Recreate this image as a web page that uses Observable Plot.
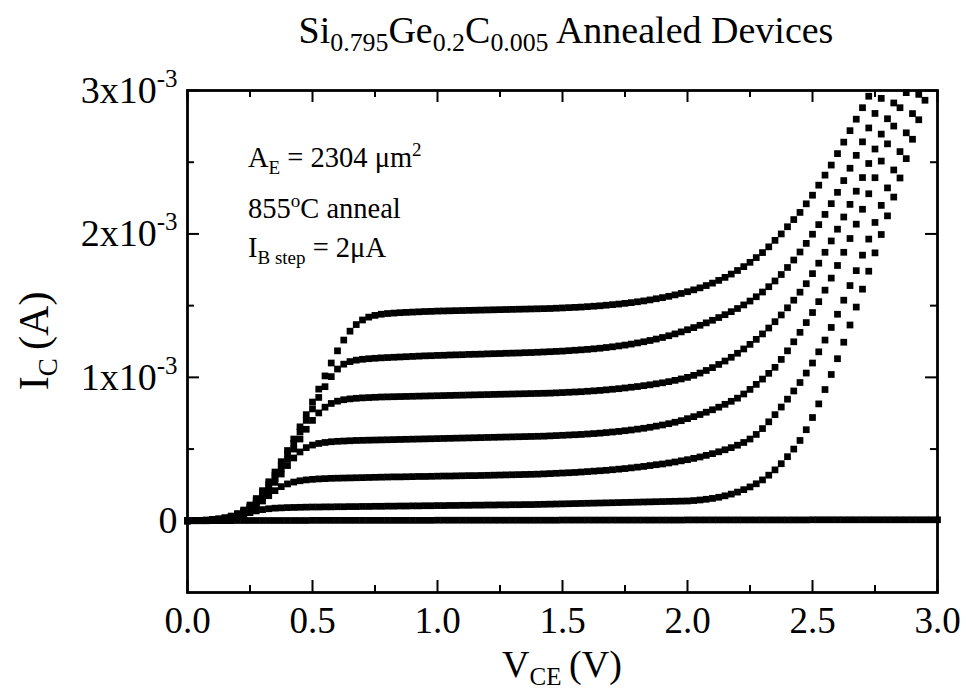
<!DOCTYPE html>
<html>
<head>
<meta charset="utf-8">
<script src="https://cdn.jsdelivr.net/npm/d3@7"></script>
<script src="https://cdn.jsdelivr.net/npm/@observablehq/plot@0.6"></script>
<style>
  html, body { margin: 0; padding: 0; background: #fff; }
  body { width: 966px; height: 695px; overflow: hidden; font-family: "Liberation Serif", "Times New Roman", serif; color: #000; }
  #title { position: relative; height: 62px; }
  #title .t { position: absolute; left: 191px; width: 750px; top: 11px; text-align: center; font-size: 38px; line-height: 38px; white-space: nowrap; }
  #title sub { font-size: 0.68em; vertical-align: -0.32em; line-height: 0; }
  #chart svg { display: block; }
</style>
</head>
<body>
<div id="title"><div class="t">Si<sub>0.795</sub>Ge<sub>0.2</sub>C<sub>0.005</sub> Annealed Devices</div></div>
<div id="chart"></div>
<script>
// V_CE sweep (V), step
const vce = [0,0.025,0.05,0.075,0.1,0.125,0.15,0.175,0.2,0.225,
0.25,0.275,0.3,0.325,0.35,0.375,0.4,0.425,0.45,0.475,
0.5,0.525,0.55,0.575,0.6,0.625,0.65,0.675,0.7,0.725,
0.75,0.775,0.8,0.825,0.85,0.875,0.9,0.925,0.95,0.975,
1,1.025,1.05,1.075,1.1,1.125,1.15,1.175,1.2,1.225,
1.25,1.275,1.3,1.325,1.35,1.375,1.4,1.425,1.45,1.475,
1.5,1.525,1.55,1.575,1.6,1.625,1.65,1.675,1.7,1.725,
1.75,1.775,1.8,1.825,1.85,1.875,1.9,1.925,1.95,1.975,
2,2.025,2.05,2.075,2.1,2.125,2.15,2.175,2.2,2.225,
2.25,2.275,2.3,2.325,2.35,2.375,2.4,2.425,2.45,2.475,
2.5,2.525,2.55,2.575,2.6,2.625,2.65,2.675,2.7,2.725,
2.75,2.775,2.8,2.825,2.85,2.875,2.9,2.925,2.95,2.975,3];

// I_C (mA) for each base-current step
const ic0 = [0,0,0,0,0.001,0.001,0.001,0.001,0.002,0.002,
0.002,0.002,0.002,0.002,0.002,0.002,0.002,0.002,0.002,0.002,
0.003,0.003,0.003,0.003,0.003,0.003,0.003,0.003,0.003,0.003,
0.003,0.003,0.003,0.003,0.003,0.003,0.003,0.003,0.003,0.003,
0.004,0.004,0.004,0.004,0.004,0.004,0.004,0.004,0.004,0.004,
0.004,0.004,0.004,0.004,0.004,0.004,0.004,0.004,0.004,0.004,
0.005,0.005,0.005,0.005,0.005,0.005,0.005,0.005,0.005,0.005,
0.005,0.005,0.005,0.005,0.005,0.005,0.005,0.005,0.005,0.005,
0.006,0.006,0.006,0.006,0.006,0.006,0.006,0.006,0.006,0.006,
0.006,0.006,0.006,0.006,0.006,0.006,0.006,0.006,0.006,0.006,
0.007,0.007,0.007,0.007,0.007,0.007,0.007,0.007,0.007,0.007,
0.007,0.007,0.007,0.007,0.007,0.007,0.007,0.007,0.007,0.007,0.007];

const ic2 = [0,0.001,0.002,0.003,0.005,0.008,0.013,0.020,0.030,0.043,
0.057,0.069,0.078,0.084,0.088,0.090,0.092,0.093,0.094,0.095,
0.096,0.096,0.097,0.097,0.098,0.098,0.099,0.099,0.100,0.100,
0.101,0.101,0.102,0.102,0.103,0.103,0.104,0.104,0.105,0.105,
0.106,0.106,0.107,0.107,0.108,0.108,0.109,0.109,0.110,0.110,
0.111,0.111,0.112,0.112,0.113,0.113,0.114,0.115,0.116,0.117,
0.118,0.119,0.120,0.121,0.122,0.123,0.124,0.125,0.126,0.127,
0.128,0.129,0.130,0.131,0.132,0.133,0.134,0.135,0.136,0.137,
0.138,0.141,0.145,0.150,0.156,0.164,0.174,0.186,0.200,0.217,
0.236,0.258,0.285,0.318,0.355,0.398,0.447,0.500,0.560,0.635,
0.720,0.815,0.915,1.020,1.130,1.245,1.365,1.490,1.615,1.740,
1.868,1.996,2.126,2.257,2.390,2.525,2.660,2.796,2.932];

const ic4 = [0,0.001,0.002,0.003,0.005,0.009,0.014,0.022,0.034,0.051,
0.074,0.103,0.138,0.175,0.210,0.238,0.257,0.270,0.279,0.285,
0.289,0.292,0.294,0.296,0.297,0.298,0.299,0.300,0.301,0.302,
0.303,0.304,0.305,0.306,0.306,0.307,0.308,0.309,0.309,0.310,
0.311,0.312,0.312,0.313,0.314,0.315,0.315,0.316,0.317,0.318,
0.319,0.320,0.321,0.322,0.323,0.324,0.325,0.327,0.329,0.331,
0.333,0.335,0.337,0.340,0.343,0.346,0.349,0.352,0.356,0.360,
0.364,0.369,0.374,0.379,0.385,0.391,0.396,0.403,0.410,0.418,
0.426,0.435,0.445,0.456,0.468,0.481,0.495,0.510,0.527,0.546,
0.570,0.602,0.643,0.690,0.740,0.793,0.848,0.905,0.964,1.030,
1.100,1.178,1.260,1.348,1.440,1.538,1.640,1.744,1.852,1.964,
2.080,2.199,2.321,2.446,2.574,2.705,2.839,2.973];

const ic6 = [0,0.001,0.002,0.003,0.006,0.010,0.016,0.025,0.039,0.058,
0.085,0.120,0.163,0.213,0.268,0.326,0.385,0.438,0.480,0.510,
0.528,0.539,0.546,0.551,0.554,0.556,0.558,0.560,0.561,0.562,
0.563,0.564,0.565,0.566,0.567,0.568,0.569,0.570,0.571,0.572,
0.573,0.574,0.575,0.576,0.577,0.578,0.579,0.580,0.581,0.582,
0.583,0.584,0.585,0.586,0.587,0.588,0.589,0.590,0.592,0.594,
0.596,0.598,0.600,0.602,0.605,0.608,0.611,0.615,0.619,0.623,
0.628,0.633,0.639,0.645,0.652,0.660,0.668,0.677,0.687,0.698,
0.712,0.726,0.741,0.757,0.774,0.792,0.812,0.833,0.855,0.884,
0.916,0.951,0.988,1.028,1.070,1.125,1.185,1.248,1.314,1.382,
1.452,1.528,1.608,1.692,1.780,1.872,1.968,2.068,2.172,2.280,
2.392,2.508,2.628,2.752,2.880,2.985];

const ic8 = [0,0.001,0.002,0.004,0.007,0.011,0.018,0.028,0.043,0.064,
0.094,0.133,0.180,0.235,0.296,0.362,0.430,0.500,0.570,0.638,
0.700,0.752,0.792,0.818,0.834,0.844,0.850,0.854,0.857,0.859,
0.861,0.863,0.864,0.865,0.866,0.867,0.868,0.869,0.870,0.871,
0.872,0.873,0.874,0.875,0.876,0.877,0.878,0.879,0.880,0.881,
0.882,0.883,0.884,0.885,0.886,0.887,0.888,0.889,0.890,0.892,
0.894,0.896,0.898,0.900,0.903,0.906,0.909,0.913,0.917,0.921,
0.926,0.931,0.936,0.942,0.948,0.955,0.962,0.970,0.979,0.989,
1.000,1.014,1.030,1.048,1.068,1.090,1.114,1.140,1.168,1.198,
1.230,1.265,1.303,1.344,1.388,1.435,1.485,1.538,1.594,1.653,
1.723,1.796,1.872,1.951,2.033,2.118,2.206,2.298,2.393,2.491,
2.592,2.696,2.803,2.913];

const ic10 = [0,0.001,0.002,0.004,0.007,0.012,0.019,0.030,0.046,0.069,
0.101,0.143,0.194,0.253,0.318,0.388,0.462,0.540,0.620,0.700,
0.780,0.860,0.935,1.005,1.058,1.092,1.110,1.120,1.126,1.130,
1.133,1.136,1.138,1.140,1.142,1.144,1.146,1.148,1.150,1.151,
1.153,1.154,1.156,1.157,1.158,1.160,1.161,1.162,1.164,1.165,
1.166,1.168,1.169,1.170,1.172,1.173,1.175,1.177,1.179,1.181,
1.183,1.186,1.189,1.192,1.195,1.199,1.203,1.208,1.213,1.219,
1.225,1.232,1.240,1.248,1.257,1.267,1.278,1.290,1.303,1.317,
1.332,1.347,1.363,1.380,1.398,1.417,1.437,1.458,1.480,1.505,
1.532,1.562,1.595,1.632,1.672,1.717,1.766,1.818,1.874,1.934,
1.998,2.065,2.136,2.211,2.290,2.372,2.458,2.548,2.642,2.739,
2.840,2.945];

const ic12 = [0,0.001,0.002,0.004,0.008,0.013,0.021,0.033,0.050,0.075,
0.110,0.155,0.210,0.272,0.340,0.412,0.490,0.570,0.655,0.740,
0.828,0.918,1.010,1.100,1.185,1.260,1.322,1.368,1.400,1.420,
1.432,1.440,1.445,1.448,1.451,1.453,1.455,1.457,1.459,1.460,
1.462,1.463,1.464,1.465,1.466,1.467,1.468,1.469,1.470,1.471,
1.472,1.473,1.474,1.475,1.476,1.477,1.478,1.479,1.480,1.482,
1.484,1.486,1.488,1.490,1.493,1.496,1.499,1.503,1.507,1.511,
1.516,1.521,1.527,1.533,1.540,1.548,1.556,1.565,1.575,1.585,
1.597,1.610,1.624,1.640,1.657,1.676,1.697,1.720,1.745,1.772,
1.802,1.835,1.870,1.910,1.955,2.000,2.050,2.100,2.150,2.210,
2.270,2.340,2.410,2.480,2.560,2.640,2.720,2.800,2.880,2.960];

// axis ticks and labels
const xMajor = [0, 0.5, 1, 1.5, 2, 2.5, 3];
const xMajorLabels = ["0.0", "0.5", "1.0", "1.5", "2.0", "2.5", "3.0"];
const xMinor = [0.25, 0.75, 1.25, 1.75, 2.25, 2.75];
const yMajor = [0, 1e-3, 2e-3, 3e-3];
const yMajorMantissa = ["0", "1x10", "2x10", "3x10"];
const yMajorExponent = ["", "-3", "-3", "-3"];
const yMinor = [0.5e-3, 1.5e-3, 2.5e-3];

const curves = [ic0, ic2, ic4, ic6, ic8, ic10, ic12];
const points = [];
curves.forEach((c, k) => c.forEach((val, j) => points.push({v: vce[j], i: val * 1e-3, step: k})));

const W = 966, H = 633, mT = 28, mB = 103, mL = 187, mR = 29;
const innerW = W - mL - mR, innerH = H - mT - mB;
const majLen = 12, minLen = 7;
const tickStyle = {stroke: "black", strokeWidth: 2};
const serif = "'Liberation Serif', 'Times New Roman', serif";

const plot = Plot.plot({
  width: W, height: H,
  marginTop: mT, marginBottom: mB, marginLeft: mL, marginRight: mR,
  style: {fontFamily: serif, background: "white", color: "black", overflow: "visible"},
  x: {domain: [0, 3]},
  y: {domain: [-0.5e-3, 3e-3]},
  marks: [
    Plot.dot(points, {x: "v", y: "i", symbol: "square", r: 3.8, fill: "black", stroke: "none"}),
    Plot.tickX(xMajor, {x: d => d, insetTop: innerH - majLen, ...tickStyle}),
    Plot.tickX(xMajor, {x: d => d, insetBottom: innerH - majLen, ...tickStyle}),
    Plot.tickX(xMinor, {x: d => d, insetTop: innerH - minLen, ...tickStyle}),
    Plot.tickX(xMinor, {x: d => d, insetBottom: innerH - minLen, ...tickStyle}),
    Plot.tickY(yMajor, {y: d => d, insetRight: innerW - majLen, ...tickStyle}),
    Plot.tickY(yMajor, {y: d => d, insetLeft: innerW - majLen, ...tickStyle}),
    Plot.tickY(yMinor, {y: d => d, insetRight: innerW - minLen, ...tickStyle}),
    Plot.tickY(yMinor, {y: d => d, insetLeft: innerW - minLen, ...tickStyle}),
    Plot.axisX(xMajor, {tickSize: 0, tickPadding: 14, fontSize: 37, label: null,
      tickFormat: d => xMajorLabels[xMajor.indexOf(d)]}),
    Plot.axisY(yMajor, {tickSize: 0, tickPadding: 10, fontSize: 38, label: null,
      tickFormat: d => yMajorMantissa[yMajor.indexOf(d)]}),
    Plot.frame({stroke: "black", strokeWidth: 2.8})
  ]
});

document.getElementById("chart").appendChild(plot);

const svg = d3.select(plot);
// superscript exponents on y tick labels
svg.selectAll("g[aria-label='y-axis tick label'] text").each(function() {
  const t = d3.select(this);
  const k = yMajorMantissa.indexOf(t.text());
  if (k >= 0 && yMajorExponent[k]) {
    t.append("tspan").attr("font-size", "25px").attr("dy", "-16px").text(yMajorExponent[k]);
  }
});

// axis titles
const xl = svg.append("text").attr("x", mL + innerW / 2).attr("y", 615)
  .attr("text-anchor", "middle").attr("font-size", 38).attr("font-family", serif);
xl.append("tspan").text("V");
xl.append("tspan").attr("font-size", "25px").attr("dy", "8px").text("CE");
xl.append("tspan").attr("dy", "-8px").text("\u2009(V)");

const yl = svg.append("text")
  .attr("transform", `translate(48,${mT + innerH / 2}) rotate(-90)`)
  .attr("text-anchor", "middle").attr("font-size", 42).attr("font-family", serif);
yl.append("tspan").text("I");
yl.append("tspan").attr("font-size", "27px").attr("dy", "9px").text("C");
yl.append("tspan").attr("dy", "-9px").text("\u2009(A)");

// annotation block
const ann = svg.append("g").attr("font-size", 28.5).attr("font-family", serif).attr("text-anchor", "start");
const a1 = ann.append("text").attr("x", 248).attr("y", 105);
a1.append("tspan").text("A");
a1.append("tspan").attr("font-size", "19px").attr("dy", "7px").text("E");
a1.append("tspan").attr("dy", "-7px").text(" = 2304 \u03bcm");
a1.append("tspan").attr("font-size", "19px").attr("dy", "-11px").text("2");
const a2 = ann.append("text").attr("x", 248).attr("y", 156);
a2.append("tspan").text("855");
a2.append("tspan").attr("font-size", "19px").attr("dy", "-11px").text("o");
a2.append("tspan").attr("dy", "11px").text("C anneal");
const a3 = ann.append("text").attr("x", 248).attr("y", 195);
a3.append("tspan").text("I");
a3.append("tspan").attr("font-size", "19px").attr("dy", "7px").text("B step");
a3.append("tspan").attr("dy", "-7px").text(" = 2\u03bcA");
</script>
</body>
</html>
